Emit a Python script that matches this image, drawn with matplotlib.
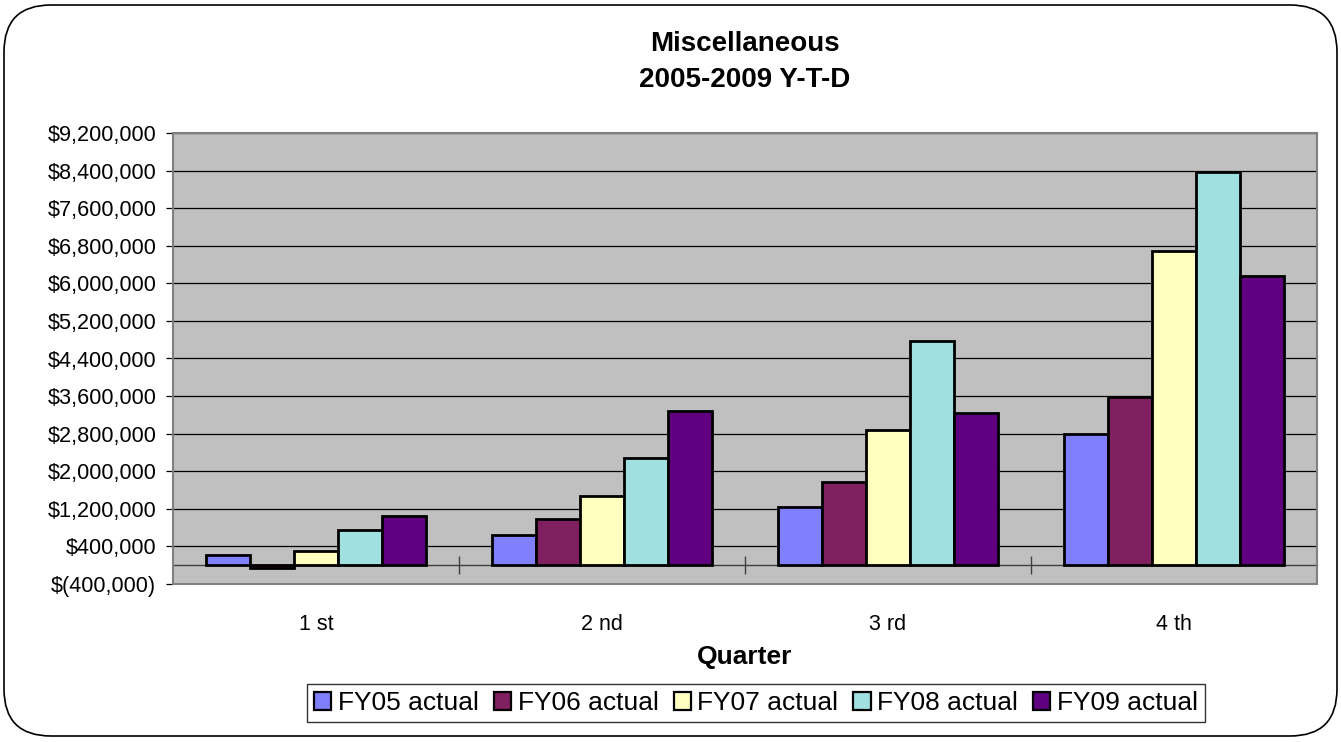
import matplotlib
matplotlib.use("Agg")
import matplotlib.pyplot as plt
import numpy as np
from matplotlib.patches import FancyBboxPatch, Rectangle
from matplotlib.ticker import FuncFormatter, FixedLocator

plt.rcParams['font.family'] = ['Liberation Sans', 'DejaVu Sans']

quarters = ["1 st", "2 nd", "3 rd", "4 th"]
series_names = ["FY05 actual", "FY06 actual", "FY07 actual", "FY08 actual", "FY09 actual"]
fy05 = [210000, 650000, 1240000, 2800000]
fy06 = [-50000, 990000, 1770000, 3590000]
fy07 = [310000, 1480000, 2870000, 6690000]
fy08 = [750000, 2290000, 4780000, 8360000]
fy09 = [1040000, 3280000, 3250000, 6160000]
series_values = [fy05, fy06, fy07, fy08, fy09]
colors = ["#8080FF", "#802060", "#FFFFC0", "#A0E0E0", "#600080"]

y_ticks = list(range(-400000, 9200001, 800000))

fig = plt.figure(figsize=(13.41, 7.42), dpi=100)
fig.patch.set_facecolor("white")

# rounded outer frame
frame = FancyBboxPatch((4 / 1341, 6 / 742), 1333 / 1341, 731 / 742,
                       boxstyle="round,pad=0,rounding_size=0.035",
                       transform=fig.transFigure, facecolor="none",
                       edgecolor="black", linewidth=1.2, mutation_aspect=1341 / 742)
fig.patches.append(frame)

ax = fig.add_axes([173 / 1341, 1 - 584 / 742, (1317 - 173) / 1341, (584 - 133) / 742])
ax.set_facecolor("#C0C0C0")

x = np.arange(len(quarters))
bar_w = 0.154
for i, (name, vals, c) in enumerate(zip(series_names, series_values, colors)):
    ax.bar(x + (i - 2) * bar_w, vals, width=bar_w, color=c, edgecolor="black",
           linewidth=2.0, label=name, zorder=3)

ax.set_xlim(-0.5, len(quarters) - 0.5)
ax.set_ylim(y_ticks[0], y_ticks[-1])
ax.yaxis.set_major_locator(FixedLocator(y_ticks))


def money(v, pos):
    if v < 0:
        return "$({:,.0f})".format(-v)
    return "${:,.0f}".format(v)


ax.yaxis.set_major_formatter(FuncFormatter(money))
ax.yaxis.grid(True, color="black", linewidth=0.9, zorder=1)
ax.set_axisbelow(True)
ax.tick_params(axis="y", direction="out", length=5, width=0.9, labelsize=15.6, pad=7)

# category axis sits on the zero line
for s in ["top", "right"]:
    ax.spines[s].set_visible(False)
ax.spines["bottom"].set_position(("data", 0))
ax.spines["bottom"].set_color("#404040")
ax.spines["bottom"].set_linewidth(1.0)
ax.spines["left"].set_color("#404040")
ax.spines["left"].set_linewidth(1.2)
ax.add_patch(Rectangle((0, 0), 1, 1, transform=ax.transAxes, fill=False,
                       edgecolor="#808080", linewidth=1.5, zorder=5, clip_on=False))

ax.set_xticks(x)
ax.set_xticklabels(quarters)
ax.set_xticks(np.arange(0.5, len(quarters) - 0.5, 1.0), minor=True)
ax.tick_params(axis="x", which="major", length=0, labelsize=15.5, pad=35)
ax.tick_params(axis="x", which="minor", direction="inout", length=13, width=1.0, color="#404040")

fig.text(745 / 1341, 1 - 44 / 742, "Miscellaneous", ha="center", va="center",
         fontsize=20, fontweight="bold")
fig.text(745 / 1341, 1 - 80 / 742, "2005-2009 Y-T-D", ha="center", va="center",
         fontsize=20, fontweight="bold")
fig.text(745 / 1341, 1 - 657 / 742, "Quarter", ha="center", va="center",
         fontsize=19, fontweight="bold")

leg = fig.legend(loc="center", bbox_to_anchor=(756 / 1341, 1 - 703 / 742), ncol=5,
                 fontsize=19, frameon=True, fancybox=False, edgecolor="black",
                 handlelength=0.65, handleheight=0.65, handletextpad=0.25,
                 columnspacing=0.57, borderpad=0.28, borderaxespad=0)
leg.get_frame().set_linewidth(1.0)
for h in leg.legend_handles:
    h.set_linewidth(1.6)

fig.savefig("out.png", dpi=100)
